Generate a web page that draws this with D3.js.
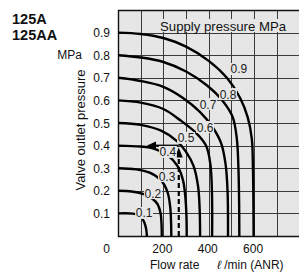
<!DOCTYPE html>
<html>
<head>
<meta charset="utf-8">
<script src="https://cdn.jsdelivr.net/npm/d3@7"></script>
<style>
  html, body { margin: 0; padding: 0; background: #fff; }
  svg { display: block; font-family: "Liberation Sans", Arial, sans-serif; }
</style>
</head>
<body>
<svg id="chart" width="299" height="273"></svg>
<script>
// ---------- data ----------
const supplyPressures = [0.1, 0.2, 0.3, 0.4, 0.5, 0.6, 0.7, 0.8, 0.9];
const supplyLabels = ["0.1", "0.2", "0.3", "0.4", "0.5", "0.6", "0.7", "0.8", "0.9"];
// [flow l/min, outlet MPa], one list per supply pressure
const curve01 = [[0,0.100],[66,0.099],[95,0.090],[110,0.072],[121,0.045],[126,0.018],[127,0]];
const curve02 = [[0,0.200],[60,0.197],[110,0.186],[150,0.166],[175,0.140],[188,0.100],[192,0.050],[193,0]];
const curve03 = [[0,0.300],[80,0.295],[140,0.280],[190,0.246],[218,0.195],[230,0.130],[234,0.060],[235,0]];
const curve04 = [[0,0.400],[100,0.396],[150,0.389],[220,0.356],[262,0.310],[287,0.245],[298,0.160],[302,0.080],[303,0]];
const curve05 = [[0,0.500],[100,0.492],[190,0.466],[260,0.420],[300,0.372],[333,0.310],[353,0.220],[360,0.120],[362,0]];
const curve06 = [[0,0.600],[100,0.590],[200,0.562],[275,0.512],[345,0.455],[388,0.400],[407,0.320],[414,0.200],[415,0]];
const curve07 = [[0,0.700],[100,0.686],[200,0.660],[285,0.612],[360,0.550],[418,0.480],[455,0.410],[474,0.320],[483,0.200],[485,0]];
const curve08 = [[0,0.800],[100,0.790],[200,0.770],[300,0.728],[390,0.668],[460,0.600],[505,0.528],[524,0.430],[531,0.300],[534,0.150],[535,0]];
const curve09 = [[0,0.900],[100,0.894],[200,0.876],[300,0.838],[400,0.775],[480,0.700],[538,0.612],[572,0.525],[590,0.430],[595,0.300],[597,0.150],[598,0]];
const curves = [curve01, curve02, curve03, curve04, curve05, curve06, curve07, curve08, curve09];
// label anchor (data units) for each curve
const labelAt = [[115,0.102],[154,0.190],[216,0.265],[220,0.372],[300,0.434],[384,0.482],[397,0.584],[485,0.628],[533,0.739]];
// worked example arrows
const exampleFlow = 268;
const exampleOutlet = 0.4;
const exampleArrowEndFlow = 128;

const xTicks = [200, 400, 600];
const xTickLabels = ["200", "400", "600"];
const yTicks = [0.1, 0.2, 0.3, 0.4, 0.5, 0.6, 0.7, 0.8, 0.9];
const yTickLabels = ["0.1", "0.2", "0.3", "0.4", "0.5", "0.6", "0.7", "0.8", "0.9"];
const xGrid = [100, 200, 300, 400, 500, 600, 700];
const yGrid = [0.1, 0.2, 0.3, 0.4, 0.5, 0.6, 0.7, 0.8, 0.9];

// ---------- layout ----------
const svg = d3.select("#chart");
const plot = { left: 118, right: 299.5, top: 10, bottom: 236 };
const x = d3.scaleLinear().domain([0, 800]).range([plot.left, plot.left + 800 * 0.2268]);
const y = d3.scaleLinear().domain([0, 1.0]).range([plot.bottom, plot.top]);

// background
svg.append("rect")
  .attr("x", plot.left).attr("y", plot.top)
  .attr("width", plot.right - plot.left + 2).attr("height", plot.bottom - plot.top)
  .attr("fill", "#e6e6e6");

// grid
const g = svg.append("g");
g.selectAll("line.vx").data(xGrid).enter().append("line")
  .attr("x1", d => Math.round(x(d)) + 0.5).attr("x2", d => Math.round(x(d)) + 0.5)
  .attr("y1", plot.top).attr("y2", plot.bottom)
  .attr("stroke", "#3a3a3a").attr("stroke-width", 1);
g.selectAll("line.hy").data(yGrid).enter().append("line")
  .attr("y1", d => Math.round(y(d)) + 0.5).attr("y2", d => Math.round(y(d)) + 0.5)
  .attr("x1", plot.left).attr("x2", 300)
  .attr("stroke", "#3a3a3a").attr("stroke-width", 1);

// frame
svg.append("path")
  .attr("d", `M300,${plot.top + 0.5} H${plot.left + 0.5} V${plot.bottom + 0.5} H300`)
  .attr("fill", "none").attr("stroke", "#111").attr("stroke-width", 1.4);

// header label inside plot
const hdr = svg.append("g");
hdr.append("rect").attr("x", 160).attr("y", 19).attr("width", 133).attr("height", 13).attr("fill", "#e6e6e6");
hdr.append("text").attr("x", 160).attr("y", 31).attr("font-size", 13.2).attr("fill", "#111")
  .text("Supply pressure  MPa");

// curves
const line = d3.line().x(d => x(d[0])).y(d => y(d[1])).curve(d3.curveCatmullRom.alpha(0.5));
svg.append("g").selectAll("path").data(curves).enter().append("path")
  .attr("d", line).attr("fill", "none").attr("stroke", "#000").attr("stroke-width", 2.4);

// example arrows
const ex = svg.append("g");
ex.append("line")
  .attr("x1", x(exampleFlow)).attr("x2", x(exampleFlow))
  .attr("y1", y(0)).attr("y2", y(exampleOutlet) + 10)
  .attr("stroke", "#000").attr("stroke-width", 2.2).attr("stroke-dasharray", "5,3");
ex.append("path")
  .attr("d", `M${x(exampleFlow)},${y(exampleOutlet) + 2} l-4,10 h8 z`).attr("fill", "#000");
ex.append("line")
  .attr("x1", x(exampleFlow)).attr("x2", x(exampleArrowEndFlow) + 8)
  .attr("y1", y(exampleOutlet)).attr("y2", y(exampleOutlet))
  .attr("stroke", "#000").attr("stroke-width", 2);
ex.append("path")
  .attr("d", `M${x(exampleArrowEndFlow)},${y(exampleOutlet)} l9,-4 v8 z`).attr("fill", "#000");

// curve labels
const lbl = svg.append("g").selectAll("g").data(supplyLabels).enter().append("g")
  .attr("transform", (d, i) => `translate(${x(labelAt[i][0])},${y(labelAt[i][1])})`);
lbl.append("rect").attr("x", -9).attr("y", -6).attr("width", 18).attr("height", 12).attr("fill", "#e6e6e6");
lbl.append("text").attr("text-anchor", "middle").attr("y", 4.5).attr("font-size", 12).attr("fill", "#222")
  .text(d => d);

// y tick labels
svg.append("g").selectAll("text").data(yTicks).enter().append("text")
  .attr("x", 110).attr("y", d => y(d) + 4.5).attr("text-anchor", "end").attr("font-size", 12).attr("fill", "#111")
  .text((d, i) => yTickLabels[i]);
svg.append("text").attr("x", 110).attr("y", 252.5).attr("text-anchor", "end").attr("font-size", 12).attr("fill", "#111").text("0");

// x tick labels
svg.append("g").selectAll("text").data(xTicks).enter().append("text")
  .attr("x", d => x(d) - 1).attr("y", 252.5).attr("text-anchor", "middle").attr("font-size", 12).attr("fill", "#111")
  .text((d, i) => xTickLabels[i]);

// axis titles
svg.append("text").attr("x", 150).attr("y", 269).attr("font-size", 12).attr("fill", "#111").text("Flow rate");
svg.append("text").attr("x", 217).attr("y", 269).attr("font-size", 12).attr("fill", "#111")
  .html('<tspan font-style="italic">ℓ</tspan> /min (ANR)');
svg.append("text").attr("transform", "translate(85,130) rotate(-90)").attr("text-anchor", "middle")
  .attr("font-size", 13).attr("fill", "#111").text("Valve outlet pressure");
svg.append("text").attr("x", 82).attr("y", 59).attr("text-anchor", "end").attr("font-size", 12).attr("fill", "#111").text("MPa");

// model names
svg.append("text").attr("x", 12).attr("y", 24).attr("font-size", 14.5).attr("font-weight", "bold").attr("fill", "#111").text("125A");
svg.append("text").attr("x", 12).attr("y", 40).attr("font-size", 14.5).attr("font-weight", "bold").attr("fill", "#111").text("125AA");
</script>
</body>
</html>
